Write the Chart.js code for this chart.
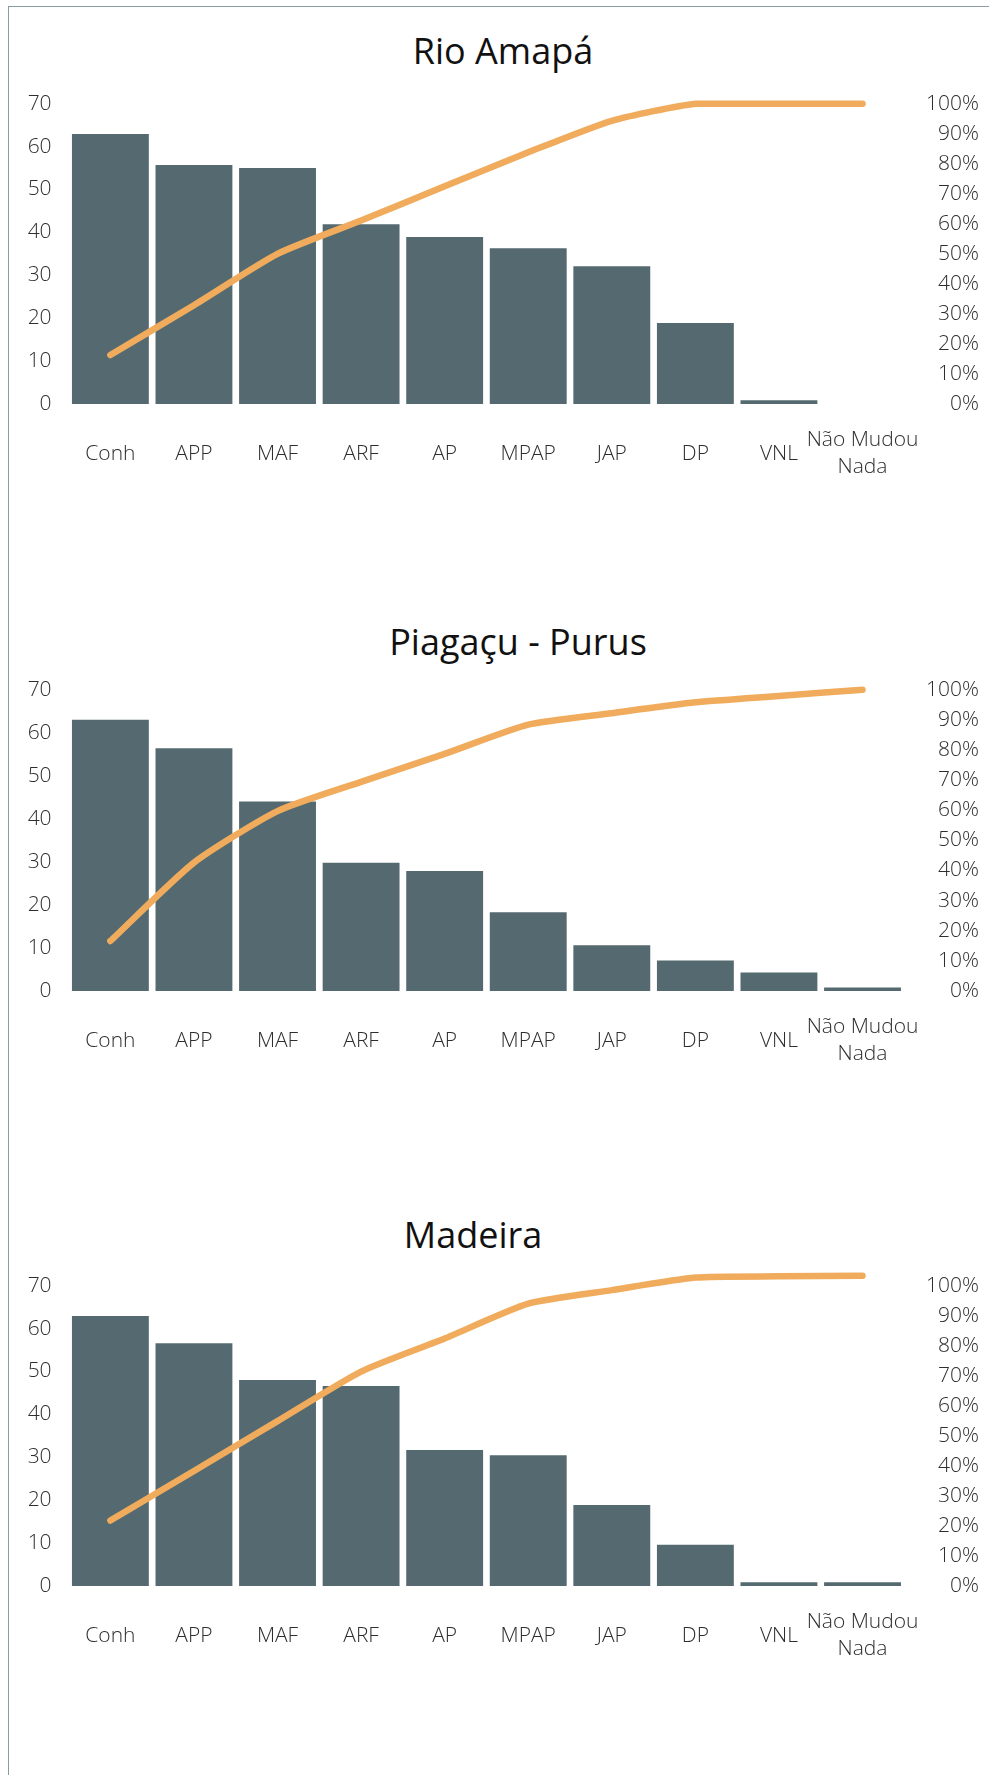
<!DOCTYPE html>
<html>
<head>
<meta charset="utf-8">
<script src="https://cdn.jsdelivr.net/npm/chart.js@4/dist/chart.umd.min.js"></script>
<style>
  html, body { margin: 0; padding: 0; background: #fff; overflow: hidden; }
  body { width: 989px; height: 1775px; position: relative; font-family: "Open Sans", sans-serif; }
  .frame { position: absolute; left: 8px; top: 6px; width: 1200px; height: 2000px; border-left: 1px solid #8a9ba2; border-top: 1px solid #8a9ba2; }
  .title { position: absolute; transform: translate(-50%, -50%); font-size: 36px; color: #111; white-space: nowrap; line-height: 1; }
  canvas { position: absolute; left: 0; }
</style>
</head>
<body>
<div class="frame"></div>
<div class="title" style="left:503px; top:51px;">Rio Amapá</div>
<div class="title" style="left:518px; top:642px;">Piagaçu - Purus</div>
<div class="title" style="left:473px; top:1235px;">Madeira</div>
<canvas id="rioAmapa" width="989" height="431" style="top:73px;"></canvas>
<canvas id="piagacu" width="989" height="432" style="top:659px;"></canvas>
<canvas id="madeira" width="989" height="431" style="top:1255px;"></canvas>
<script>
const categories = ['Conh', 'APP', 'MAF', 'ARF', 'AP', 'MPAP', 'JAP', 'DP', 'VNL', ['Não Mudou', 'Nada']];
const leftTicks = [0, 70, 10];
const rightTicks = [0, 100, 10];

const rioAmapaValues = [62.9, 55.7, 55, 41.9, 38.9, 36.3, 32.1, 18.9, 0.9, 0];
const rioAmapaCumulative = [16.3, 32.9, 50.0, 61.1, 72.5, 83.8, 94.3, 100, 100, 100];

const piagacuValues = [63, 56.4, 44, 29.8, 27.9, 18.3, 10.6, 7.1, 4.3, 0.8];
const piagacuCumulative = [16.6, 42.6, 59.7, 69.4, 78.7, 88.4, 92.2, 95.8, 97.9, 100];

const madeiraValues = [62.9, 56.6, 48, 46.6, 31.7, 30.5, 18.9, 9.6, 0.9, 0.9];
const madeiraCumulative = [21.8, 38.3, 54.9, 71.4, 82.4, 94, 98.5, 102.7, 103.1, 103.3];

const barColor = '#546A70';
const lineColor = '#F0AB5C';
const tickFont = { family: 'Open Sans', size: 21, weight: 300, lineHeight: 1.3 };
const tickColor = '#2e2e2e';

function paretoChart(id, values, cumulative) {
    const ctx = document.getElementById(id).getContext('2d');
    return new Chart(ctx, {
        type: 'bar',
        data: {
            labels: categories,
            datasets: [
                {
                    type: 'line',
                    label: 'Acumulado',
                    data: cumulative,
                    yAxisID: 'y1',
                    borderColor: lineColor,
                    borderWidth: 6.5,
                    borderCapStyle: 'round',
                    borderJoinStyle: 'round',
                    pointRadius: 0,
                    tension: 0.2,
                    fill: false,
                    clip: false,
                    order: 0
                },
                {
                    label: 'Frequência',
                    data: values,
                    yAxisID: 'y',
                    backgroundColor: barColor,
                    barPercentage: 0.92,
                    categoryPercentage: 1,
                    order: 1
                }
            ]
        },
        options: {
            responsive: false,
            animation: false,
            layout: { padding: { top: 0, left: 0, right: 10, bottom: 0 } },
            plugins: {
                legend: { display: false },
                tooltip: { enabled: false }
            },
            scales: {
                x: {
                    grid: { display: false, drawTicks: false },
                    border: { display: false },
                    ticks: { font: tickFont, color: tickColor, padding: 36, maxRotation: 0, autoSkip: false, crossAlign: 'center' },
                    afterFit: (s) => { s.height = 100; }
                },
                y: {
                    position: 'left',
                    min: leftTicks[0], max: leftTicks[1],
                    grid: { display: false, drawTicks: false },
                    border: { display: false },
                    ticks: { stepSize: leftTicks[2], autoSkip: false, font: tickFont, color: tickColor, padding: 17 },
                    afterFit: (s) => { s.width = 68.6; }
                },
                y1: {
                    position: 'right',
                    min: rightTicks[0], max: rightTicks[1],
                    grid: { display: false, drawTicks: false },
                    border: { display: false },
                    ticks: {
                        stepSize: rightTicks[2], autoSkip: false, font: tickFont, color: tickColor, padding: 13, crossAlign: 'far',
                        callback: (v) => v + '%'
                    },
                    afterFit: (s) => { s.width = 74.7; }
                }
            }
        }
    });
}

paretoChart('rioAmapa', rioAmapaValues, rioAmapaCumulative);
paretoChart('piagacu', piagacuValues, piagacuCumulative);
paretoChart('madeira', madeiraValues, madeiraCumulative);
</script>
</body>
</html>
